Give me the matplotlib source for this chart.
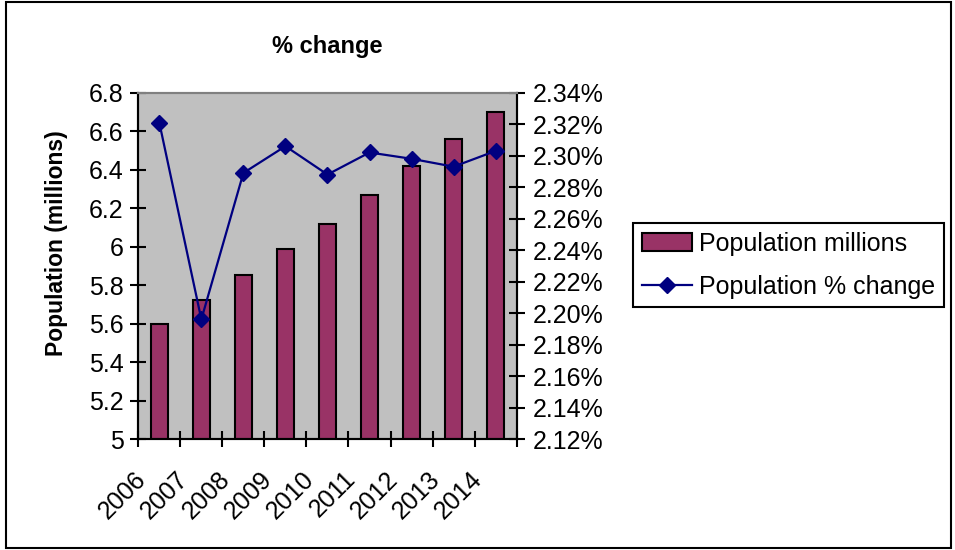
import matplotlib.pyplot as plt
from matplotlib.patches import Rectangle
from matplotlib.ticker import FixedLocator, FuncFormatter
from matplotlib.transforms import offset_copy

plt.rcParams['font.family'] = ['Liberation Sans', 'DejaVu Sans']

years = ['2006', '2007', '2008', '2009', '2010', '2011', '2012', '2013', '2014']
population = [5.60, 5.72, 5.85, 5.99, 6.12, 6.27, 6.42, 6.56, 6.70]
pct_change = [2.321, 2.196, 2.289, 2.306, 2.288, 2.302, 2.298, 2.293, 2.303]

fig = plt.figure(figsize=(9.55, 5.5), dpi=100)
ax = fig.add_axes([0.1448, 0.2018, 0.3962, 0.6297])
ax.set_facecolor('#C0C0C0')

x = list(range(len(years)))
bars = ax.bar(x, population, width=0.4, color='#993366', edgecolor='black',
              linewidth=1.5, label='Population millions', zorder=2)
ax.set_xlim(-0.5, len(years) - 0.5)
ax.set_ylim(5, 6.8)
ax.set_yticks([5 + 0.2 * i for i in range(10)])
ax.yaxis.set_major_formatter(FuncFormatter(lambda v, p: f'{v:g}'))
ax.set_ylabel('Population (millions)', fontsize=16.5, fontweight='bold',
              va='center')
ax.yaxis.set_label_coords(-0.215, 0.565)

ax.set_xticks(x)
ax.set_xticklabels(years, rotation=45, ha='right', fontsize=18)
ax.xaxis.set_minor_locator(FixedLocator([i - 0.5 for i in range(len(years) + 1)]))
ax.tick_params(axis='x', which='major', length=0, pad=20)
ax.tick_params(axis='x', which='minor', direction='inout', length=11, width=1.5)
ax.tick_params(axis='y', direction='inout', length=11, width=1.5, labelsize=18, pad=5)
for lab in ax.get_xticklabels():
    lab.set_transform(offset_copy(lab.get_transform(), fig=fig, x=-9, y=0, units='dots'))

ax2 = ax.twinx()
line, = ax2.plot(x, pct_change, color='#000080', lw=1.6, marker='D', ms=8,
                 label='Population % change', zorder=3)
ax2.set_ylim(2.12, 2.34)
ax2.set_yticks([2.12 + 0.02 * i for i in range(12)])
ax2.yaxis.set_major_formatter(FuncFormatter(lambda v, p: f'{v:.2f}%'))
ax2.tick_params(axis='y', direction='inout', length=11, width=1.5, labelsize=18, pad=6)

for a in (ax, ax2):
    for side in ('left', 'right', 'bottom'):
        a.spines[side].set_linewidth(1.5)
        a.spines[side].set_color('black')
    a.spines['top'].set_color('#808080')
    a.spines['top'].set_linewidth(1.5)

fig.text(0.3425, 1 - 47 / 550, '% change', ha='center', va='center',
         fontsize=17, fontweight='bold')

leg = ax2.legend([bars, line], ['Population millions', 'Population % change'],
                 loc='upper left', bbox_to_anchor=(633 / 955, 1 - 223 / 550),
                 bbox_transform=fig.transFigure, borderaxespad=0, fontsize=18,
                 fancybox=False, framealpha=1, edgecolor='black',
                 handlelength=2.0, handletextpad=0.3, borderpad=0.35,
                 labelspacing=0.75)
leg.get_frame().set_linewidth(1.5)

fig.patches.append(Rectangle((6 / 955, 2 / 550), 945 / 955, 546 / 550,
                             transform=fig.transFigure, fill=False,
                             edgecolor='black', linewidth=1.5))

fig.savefig('out.png', dpi=100)
